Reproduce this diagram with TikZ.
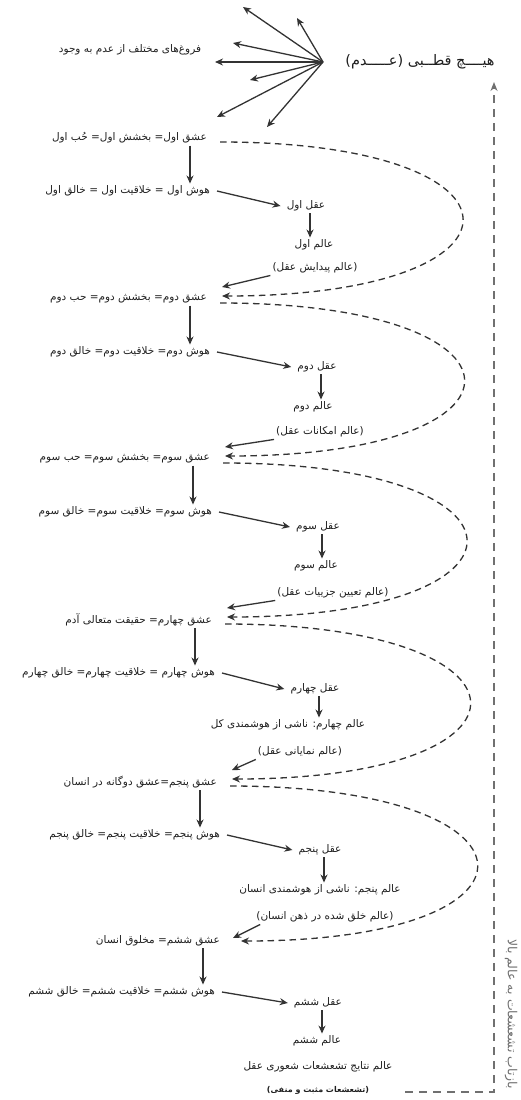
\documentclass[tikz,border=0pt]{standalone}
\usepackage{fontspec}
\usetikzlibrary{arrows.meta}
\newfontfamily\fafont[Script=Arabic]{DejaVu Sans}
\TeXXeTstate=1

\definecolor{lineclr}{HTML}{333333}
\definecolor{backclr}{HTML}{707070}

\tikzset{
  txt/.style={font=\fafont\fontsize{10.5}{12}\selectfont, text=black!88, inner sep=2pt},
  lefttxt/.style={txt, anchor=east},
  bigtxt/.style={font=\fafont\fontsize{14.5}{16}\selectfont, text=black!88, inner sep=2pt},
  arr/.style={-{Stealth[length=8pt,width=7pt]}, draw=lineclr, line width=1.3pt},
  loopline/.style={-{Stealth[length=8pt,width=7pt]}, draw=lineclr, line width=1.3pt, dash pattern=on 6.5pt off 4.5pt},
  backline/.style={-{Stealth[length=9pt,width=7pt]}, draw=backclr, line width=1.8pt, dash pattern=on 8pt off 6pt}
}

\begin{document}
\begin{tikzpicture}[x=1pt, y=-1pt]
  \useasboundingbox (0,0) rectangle (521,1100);

  % source and rays
  \node[bigtxt] (src) at (420,62) {\beginR هیــــچ قطــبی (عـــــدم)\endR};
  \node[txt] (rays) at (130,50) {\beginR فروغ‌های مختلف از عدم به وجود\endR};
  \coordinate (hub) at (323,62);
  \foreach \i/\x/\y in {1/243/7, 2/297/18, 3/233/43, 4/215/62, 5/250/80, 6/217/117, 7/267/127} {
    \coordinate (ray\i) at (\x,\y);
    \draw[arr] (hub) -- (ray\i);
  }

  % left column
  \node[lefttxt] (e1) at (209,138) {\beginR عشق اول= بخشش اول= حُب اول\endR};
  \node[lefttxt] (h1) at (212,191) {\beginR هوش اول = خلاقیت اول = خالق اول\endR};
  \node[lefttxt] (e2) at (209,299) {\beginR عشق دوم= بخشش دوم= حب دوم\endR};
  \node[lefttxt] (h2) at (212,352) {\beginR هوش دوم= خلاقیت دوم= خالق دوم\endR};
  \node[lefttxt] (e3) at (212,459) {\beginR عشق سوم= بخشش سوم= حب سوم\endR};
  \node[lefttxt] (h3) at (214,512) {\beginR هوش سوم= خلاقیت سوم= خالق سوم\endR};
  \node[lefttxt] (e4) at (214,620) {\beginR عشق چهارم= حقیقت متعالی آدم\endR};
  \node[lefttxt] (h4) at (217,673) {\beginR هوش چهارم = خلاقیت چهارم= خالق چهارم\endR};
  \node[lefttxt] (e5) at (219,782) {\beginR عشق پنجم=عشق دوگانه در انسان\endR};
  \node[lefttxt] (h5) at (222,835) {\beginR هوش پنجم= خلاقیت پنجم= خالق پنجم\endR};
  \node[lefttxt] (e6) at (222,941) {\beginR عشق ششم= مخلوق انسان\endR};
  \node[lefttxt] (h6) at (217,992) {\beginR هوش ششم= خلاقیت ششم= خالق ششم\endR};

  % right column
  \node[txt] (a1) at (306,206) {\beginR عقل اول\endR};
  \node[txt] (w1) at (314,245) {\beginR عالم اول\endR};
  \node[txt] (p1) at (315,268) {\beginR (عالم پیدایش عقل)\endR};
  \node[txt] (a2) at (317,367) {\beginR عقل دوم\endR};
  \node[txt] (w2) at (313,407) {\beginR عالم دوم\endR};
  \node[txt] (p2) at (320,432) {\beginR (عالم امکانات عقل)\endR};
  \node[txt] (a3) at (318,527) {\beginR عقل سوم\endR};
  \node[txt] (w3) at (316,566) {\beginR عالم سوم\endR};
  \node[txt] (p3) at (333,593) {\beginR (عالم تعیین جزییات عقل)\endR};
  \node[txt] (a4) at (315,689) {\beginR عقل چهارم\endR};
  \node[txt] (w4) at (288,725) {\beginR عالم چهارم: ناشی از هوشمندی کل\endR};
  \node[txt] (p4) at (300,752) {\beginR (عالم نمایانی عقل)\endR};
  \node[txt] (a5) at (320,850) {\beginR عقل پنجم\endR};
  \node[txt] (w5) at (320,890) {\beginR عالم پنجم: ناشی از هوشمندی انسان\endR};
  \node[txt] (p5) at (325,917) {\beginR (عالم خلق شده در ذهن انسان)\endR};
  \node[txt] (a6) at (318,1003) {\beginR عقل ششم\endR};
  \node[txt] (w6) at (317,1041) {\beginR عالم ششم\endR};
  \node[txt] (r6) at (318,1067) {\beginR عالم نتایج تشعشعات شعوری عقل\endR};
  \node[txt, font=\fafont\bfseries\fontsize{8}{9}\selectfont] (n6) at (318,1090) {\beginR (تشعشعات مثبت و منفی)\endR};

  % down arrows, left
  \foreach \e/\h in {e1/h1, e2/h2, e3/h3, e4/h4, e5/h5, e6/h6}
    \draw[arr] ([xshift=-19pt]\e.south east) -- ([xshift=-19pt]\e.south east |- \h.north);

  % hosh -> aql -> alam
  \foreach \h/\a/\w in {h1/a1/w1, h2/a2/w2, h3/a3/w3, h4/a4/w4, h5/a5/w5, h6/a6/w6} {
    \draw[arr] ([xshift=5pt]\h.east) -- ([xshift=-4pt]\a.west);
    \draw[arr] ([xshift=4pt]\a.south) -- ([xshift=4pt]\a.south |- \w.north);
  }

  % alam -> next eshq
  \foreach \p/\e in {p1/e2, p2/e3, p3/e4, p4/e5}
    \draw[arr] (\p.south west) -- ([shift={(13pt,12pt)}]\e.east);
  \draw[arr] ([xshift=6pt]p5.south west) -- ([shift={(11pt,3pt)}]e6.east);

  % dashed loops
  \foreach \a/\b in {e1/e2, e2/e3, e3/e4, e4/e5}
    \draw[loopline] ([shift={(11pt,-4pt)}]\a.east) .. controls +(322,0) and +(322,0) .. ([shift={(13pt,3pt)}]\b.east);
  \draw[loopline] ([shift={(11pt,-4pt)}]e5.east) .. controls +(322,0) and +(322,0) .. ([shift={(19pt,0pt)}]e6.east);

  % feedback
  \coordinate (fb1) at (405,1092);
  \coordinate (fb2) at (494,1092);
  \coordinate (fbtop) at (494,82);
  \draw[backline] (fb1) -- (fb2) -- (fbtop);
  \node[txt, font=\fafont\fontsize{12.5}{14}\selectfont, text=backclr, rotate=-90] (fbtxt) at (511,1014) {\beginR بازتاب تشعشعات به عالم بالا\endR};
\end{tikzpicture}
\end{document}
